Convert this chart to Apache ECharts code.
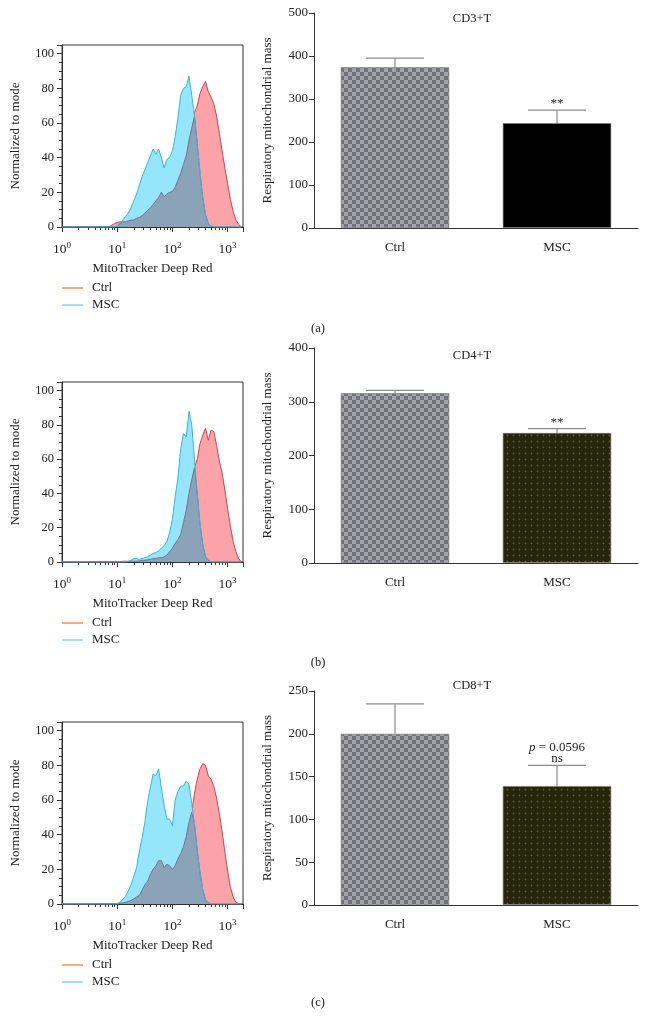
<!DOCTYPE html>
<html>
<head>
<meta charset="utf-8">
<script src="https://cdn.jsdelivr.net/npm/echarts@6.0.0/dist/echarts.min.js"></script>
<style>
html, body { margin: 0; padding: 0; background: #fff; }
#main { width: 647px; height: 1030px; }
</style>
</head>
<body>
<div id="main"></div>
<script>
// histogram sampling positions, log10 of MitoTracker Deep Red intensity
var histLogX = [0, 0.80, 0.85, 0.90, 0.95, 1.00, 1.05, 1.10, 1.15, 1.20, 1.25, 1.30, 1.35, 1.40, 1.45,
    1.50, 1.55, 1.60, 1.65, 1.70, 1.75, 1.80, 1.85, 1.90, 1.95, 2.00, 2.05, 2.10, 2.15, 2.20, 2.25,
    2.30, 2.35, 2.40, 2.45, 2.50, 2.55, 2.60, 2.65, 2.70, 2.75, 2.80, 2.85, 2.90, 2.95, 3.00, 3.05,
    3.10, 3.15, 3.20, 3.25];

// (a) CD3+T, normalized to mode
var ctrlA = [0, 0, 0, 1, 2, 2.5, 3, 3, 3, 3.5, 4, 4, 5, 5.5, 6.5, 8, 9.5, 11, 13, 15, 17, 20, 17.5, 19, 20,
    20.5, 23, 27, 31, 36, 41, 50, 57, 66, 70, 77, 81, 84, 78, 75, 71, 64, 54, 44, 34, 25, 16, 9, 4, 1.5, 0];
var mscA = [0, 0, 0, 0, 0, 0.5, 2, 4, 6, 8, 11, 15, 19, 24, 29, 33, 37, 41, 45, 42, 45, 40, 34, 39, 40,
    44, 52, 63, 76, 80, 81, 87, 76, 64, 48, 31, 17, 7, 2, 0.5, 0, 0, 0, 0, 0, 0, 0, 0, 0, 0, 0];
// (b) CD4+T
var ctrlB = [0, 0, 0, 0, 0, 0, 0, 0, 0, 0.3, 0.5, 0.5, 0.5, 0.7, 1, 1, 1.3, 1.5, 2, 2, 2.5, 2.5, 3, 4, 6,
    8, 11, 13, 16, 23, 30, 40, 48, 55, 60, 69, 74, 78, 71, 77, 76, 68, 59, 52, 42, 31, 21, 12, 6, 2, 0];
var mscB = [0, 0, 0, 0, 0, 0, 0, 0.5, 0.5, 0.5, 1, 2, 2, 1.5, 2, 2.5, 3, 4, 5, 5.5, 6.5, 8, 9.5, 12, 17,
    25, 38, 49, 66, 75, 73, 88, 80, 60, 40, 22, 10, 3, 1, 0, 0, 0, 0, 0, 0, 0, 0, 0, 0, 0, 0];
// (c) CD8+T
var ctrlC = [0, 0, 0, 0, 0, 0, 0.3, 0.7, 1, 1.5, 2, 3, 4, 5, 8, 11, 13, 17, 20, 22, 25, 25, 21, 23, 22,
    20, 22, 26, 29, 33, 39, 47, 53, 64, 72, 78, 81, 80, 74, 72, 68, 61, 52, 42, 30, 19, 10, 4, 1, 0, 0];
var mscC = [0, 0, 0, 0, 0, 0.3, 1, 2.5, 4.5, 7.5, 11, 16, 21, 30, 38, 47, 59, 67, 75, 74, 78, 67, 57, 49, 49,
    45, 60, 65, 68, 68, 71, 69, 58, 46, 31, 18, 8, 2.5, 0.8, 0, 0, 0, 0, 0, 0, 0, 0, 0, 0, 0, 0];

// bar charts: respiratory mitochondrial mass, mean and error
var barCats = ['Ctrl', 'MSC'];
var cd3Mean = [374, 244];
var cd3Err = [21, 30];
var cd4Mean = [316, 242];
var cd4Err = [5, 8];
var cd8Mean = [200, 139];
var cd8Err = [35, 24];
var cd3Sig = ['', '**'];
var cd4Sig = ['', '**'];
var cd8Sig = ['', '{i|p} = 0.0596\nns'];

var serif = '"Liberation Serif", "DejaVu Serif", serif';
var ink = '#222';

// checkerboard fill of the Ctrl bars
function makeChecker() {
    var c = document.createElement('canvas');
    c.width = 8; c.height = 8;
    var g = c.getContext('2d');
    g.fillStyle = '#a3a3aa';
    g.fillRect(0, 0, 8, 8);
    g.fillStyle = '#727278';
    g.fillRect(0, 0, 4, 4);
    g.fillRect(4, 4, 4, 4);
    return c;
}
// dark olive with small dots, MSC bars in (b) and (c)
function makeDots() {
    var c = document.createElement('canvas');
    c.width = 6; c.height = 6;
    var g = c.getContext('2d');
    g.fillStyle = '#26260b';
    g.fillRect(0, 0, 6, 6);
    g.fillStyle = '#3b3b22';
    g.fillRect(2, 3, 3, 1);
    g.fillRect(3, 2, 1, 3);
    g.fillStyle = '#5a5a3e';
    g.fillRect(3, 3, 1, 1);
    return c;
}
var checker = {image: makeChecker(), repeat: 'repeat'};
var dots = {image: makeDots(), repeat: 'repeat'};

var histPanels = [
    {top: 45, height: 182, ctrl: ctrlA, msc: mscA, legendTop: 281},
    {top: 382, height: 180, ctrl: ctrlB, msc: mscB, legendTop: 616},
    {top: 722, height: 182, ctrl: ctrlC, msc: mscC, legendTop: 958}
];
var barPanels = [
    {top: 13, height: 215, max: 500, interval: 100, mean: cd3Mean, err: cd3Err, sig: cd3Sig,
        title: 'CD3+T', titleTop: 12, mscColor: '#000', tag: '(a)', tagTop: 322},
    {top: 348, height: 215, max: 400, interval: 100, mean: cd4Mean, err: cd4Err, sig: cd4Sig,
        title: 'CD4+T', titleTop: 349, mscColor: dots, tag: '(b)', tagTop: 656},
    {top: 691, height: 214, max: 250, interval: 50, mean: cd8Mean, err: cd8Err, sig: cd8Sig,
        title: 'CD8+T', titleTop: 679, mscColor: dots, tag: '(c)', tagTop: 996}
];

function pairs(ys) {
    return histLogX.map(function (lx, i) { return [Math.pow(10, lx), ys[i]]; });
}

function errRender(sig) {
    return function (params, api) {
        var i = api.value(0), m = api.value(1), e = api.value(2);
        var p0 = api.coord([i, m]);
        var p1 = api.coord([i, m + e]);
        var half = 29;
        var st = {stroke: '#8c8c8c', lineWidth: 1.2};
        var kids = [
            {type: 'line', shape: {x1: p0[0], y1: p0[1], x2: p1[0], y2: p1[1]}, style: st},
            {type: 'line', shape: {x1: p1[0] - half, y1: p1[1], x2: p1[0] + half, y2: p1[1]}, style: st}
        ];
        var s = sig[params.dataIndex];
        if (s) {
            kids.push({
                type: 'text',
                style: {
                    text: s, x: p1[0], y: p1[1] - 1,
                    align: 'center', verticalAlign: 'bottom',
                    fontFamily: serif, fontSize: 13, lineHeight: 11, fill: ink,
                    rich: {i: {fontStyle: 'italic', fontFamily: serif, fontSize: 13, lineHeight: 11}}
                }
            });
        }
        return {type: 'group', children: kids};
    };
}

var grid = [], xAxis = [], yAxis = [], series = [], legend = [], title = [];

histPanels.forEach(function (p, k) {
    grid.push({left: 62, top: p.top, width: 181, height: p.height, show: true,
        borderColor: '#333', borderWidth: 1, outerBoundsMode: 'none'});
    xAxis.push({
        type: 'log', logBase: 10, gridIndex: k, min: 1, max: 1900,
        name: 'MitoTracker Deep Red', nameLocation: 'middle', nameGap: 35,
        nameTextStyle: {fontFamily: serif, fontSize: 13, color: ink},
        axisLine: {onZero: false, lineStyle: {color: '#333'}},
        axisTick: {length: 5, lineStyle: {color: '#333'}},
        minorTick: {show: true, splitNumber: 9, length: 3, lineStyle: {color: '#333'}},
        splitLine: {show: false},
        axisLabel: {
            margin: 14,
            formatter: function (v) {
                var e = Math.round(Math.log(v) / Math.LN10);
                if (Math.abs(Math.pow(10, e) - v) > 1e-6) return '';
                return '{b|10}{s|' + e + '}';
            },
            rich: {
                b: {fontFamily: serif, fontSize: 13.5, color: ink, lineHeight: 16},
                s: {fontFamily: serif, fontSize: 9, color: ink, lineHeight: 10, verticalAlign: 'top'}
            }
        }
    });
    yAxis.push({
        type: 'value', gridIndex: k, min: 0, max: 105, interval: 20,
        name: 'Normalized to mode', nameLocation: 'middle', nameGap: 40,
        nameTextStyle: {fontFamily: serif, fontSize: 13, color: ink},
        axisLine: {show: true, lineStyle: {color: '#333'}},
        axisTick: {show: true, length: 5, lineStyle: {color: '#333'}},
        minorTick: {show: true, splitNumber: 4, length: 3, lineStyle: {color: '#333'}},
        splitLine: {show: false},
        axisLabel: {
            margin: 8, fontFamily: serif, fontSize: 12.5, color: ink,
            formatter: function (v) { return v % 20 === 0 ? String(v) : ''; }
        }
    });
    var overlap = p.ctrl.map(function (v, i) { return Math.min(v, p.msc[i]); });
    var base = {type: 'line', xAxisIndex: k, yAxisIndex: k, symbol: 'none', showSymbol: false, silent: true};
    series.push(Object.assign({}, base, {
        name: 'Ctrl', data: pairs(p.ctrl), z: 2,
        itemStyle: {color: '#f0905a'},
        lineStyle: {color: '#d2404f', width: 1},
        areaStyle: {color: '#fba3a8', opacity: 1}
    }));
    series.push(Object.assign({}, base, {
        name: 'MSC', data: pairs(p.msc), z: 3,
        itemStyle: {color: '#86d6ee'},
        lineStyle: {width: 0, opacity: 0},
        areaStyle: {color: '#95e6fa', opacity: 1}
    }));
    series.push(Object.assign({}, base, {
        name: 'overlap', data: pairs(overlap), z: 4,
        lineStyle: {color: '#78708f', width: 1},
        areaStyle: {color: '#8aa3b8', opacity: 1}
    }));
    series.push(Object.assign({}, base, {
        name: 'MSC line', data: pairs(p.msc), z: 5,
        lineStyle: {color: '#3ab5da', width: 1}
    }));
    legend.push({
        orient: 'vertical', left: 62, top: p.legendTop, itemGap: 3, padding: 0,
        itemWidth: 21, itemHeight: 1.5, icon: 'rect', selectedMode: false,
        textStyle: {fontFamily: serif, fontSize: 13, color: ink, lineHeight: 14, padding: [0, 0, 0, 4]},
        data: [
            {name: 'Ctrl', itemStyle: {color: '#f0905a'}},
            {name: 'MSC', itemStyle: {color: '#86d6ee'}}
        ]
    });
});

barPanels.forEach(function (p, j) {
    var k = 3 + j;
    grid.push({left: 314, top: p.top, width: 324, height: p.height, outerBoundsMode: 'none'});
    xAxis.push({
        type: 'category', gridIndex: k, data: barCats,
        axisLine: {lineStyle: {color: '#333'}},
        axisTick: {alignWithLabel: true, length: 7, lineStyle: {color: '#333'}},
        axisLabel: {margin: 13, fontFamily: serif, fontSize: 13, color: ink}
    });
    yAxis.push({
        type: 'value', gridIndex: k, min: 0, max: p.max, interval: p.interval,
        name: 'Respiratory mitochondrial mass', nameLocation: 'middle', nameGap: 40,
        nameTextStyle: {fontFamily: serif, fontSize: 13, color: ink},
        axisLine: {show: true, lineStyle: {color: '#333'}},
        axisTick: {show: true, length: 5, lineStyle: {color: '#333'}},
        splitLine: {show: false},
        axisLabel: {margin: 6, fontFamily: serif, fontSize: 13, color: ink}
    });
    series.push({
        type: 'bar', xAxisIndex: k, yAxisIndex: k, barWidth: '67%', z: 2, silent: true,
        data: p.mean.map(function (v, i) {
            return {value: v, itemStyle: {
                color: i === 0 ? checker : p.mscColor,
                borderColor: 'rgba(120,120,120,0.8)', borderWidth: 0.8
            }};
        })
    });
    series.push({
        type: 'custom', xAxisIndex: k, yAxisIndex: k, z: 3, silent: true,
        renderItem: errRender(p.sig),
        data: p.mean.map(function (v, i) { return [i, v, p.err[i]]; })
    });
    title.push({text: p.title, left: 472, top: p.titleTop, textAlign: 'center', padding: 0,
        textStyle: {fontFamily: serif, fontSize: 12.5, fontWeight: 'normal', color: ink}});
    title.push({text: p.tag, left: 318, top: p.tagTop, textAlign: 'center', padding: 0,
        textStyle: {fontFamily: serif, fontSize: 12.5, fontWeight: 'normal', color: ink}});
});

var chart = echarts.init(document.getElementById('main'), null, {renderer: 'canvas'});
chart.setOption({
    animation: false,
    backgroundColor: '#fff',
    title: title,
    legend: legend,
    grid: grid,
    xAxis: xAxis,
    yAxis: yAxis,
    series: series
});
</script>
</body>
</html>
